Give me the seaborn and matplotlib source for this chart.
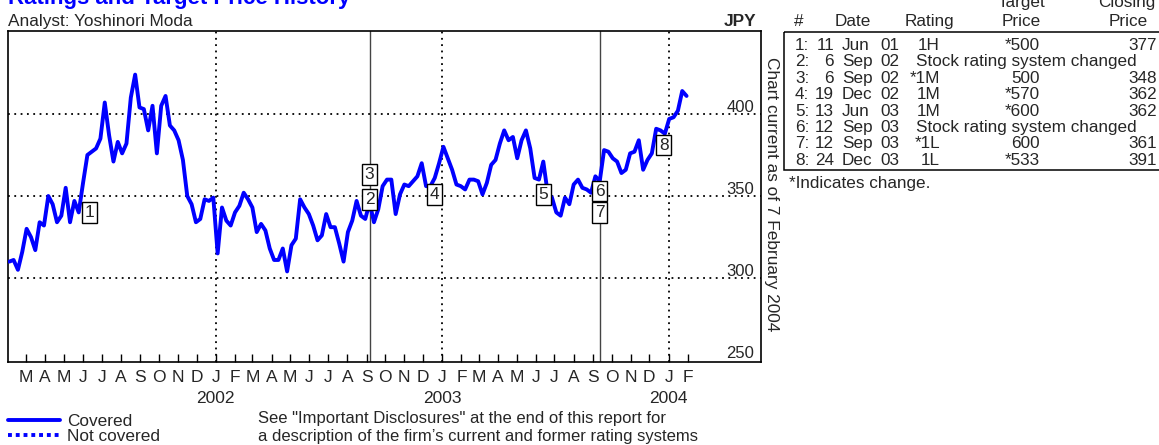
import matplotlib
matplotlib.use("Agg")
import matplotlib.pyplot as plt
import matplotlib.transforms as mtransforms
from matplotlib.lines import Line2D
from matplotlib.patches import Rectangle
import seaborn as sns
import numpy as np
import pandas as pd

sns.set_theme(style="white")
plt.rcParams['font.family'] = ['Liberation Sans', 'DejaVu Sans']

BLUE = '#0000ff'

# --- data ---
# weekly closing prices (JPY), first week ending 2 Feb 2001
first_week = "2001-02-02"
prices = [
    310, 311, 305, 316, 330, 325, 317, 334, 332, 350,
    345, 334, 338, 355, 334, 347, 340, 358, 375, 377,
    379, 385, 407, 387, 371, 383, 376, 382, 410, 424,
    404, 403, 390, 405, 376, 405, 411, 393, 390, 384,
    372, 350, 345, 334, 336, 348, 347, 349, 315, 343,
    335, 332, 340, 344, 352, 348, 343, 328, 333, 329,
    318, 311, 311, 318, 304, 320, 324, 348, 343, 339,
    332, 323, 326, 339, 331, 331, 321, 310, 328, 335,
    347, 338, 336, 346, 334, 342, 356, 360, 360, 339,
    351, 357, 356, 359, 362, 370, 356, 356, 361, 370,
    380, 373, 366, 357, 356, 354, 360, 360, 359, 351,
    358, 369, 372, 382, 390, 384, 386, 373, 384, 390,
    379, 361, 360, 371, 352, 349, 340, 338, 349, 345,
    357, 360, 355, 354, 352, 362, 359, 378, 377, 373,
    371, 364, 366, 376, 377, 384, 366, 372, 376, 391,
    390, 388, 397, 398, 402, 414, 411,
]

# numbered rating / target events
event_ids = ["1", "2", "3", "4", "5", "6", "7", "8"]
event_dates = ["2001-06-11", "2002-09-06", "2002-09-06", "2002-12-19",
               "2003-06-13", "2003-09-12", "2003-09-12", "2003-12-24"]
event_levels = [340, 348, 363, 351, 351, 353, 340, 381]

year_starts = ["2002-01-01", "2003-01-01", "2004-01-01"]
year_labels = ["2002", "2003", "2004"]
system_changes = ["2002-09-06", "2003-09-12"]
price_ticks = [250, 300, 350, 400]
month_labels = list("MAMJJASONDJFMAMJJASONDJFMAMJJASONDJF")

# table on the right
row_ids = ["1:", "2:", "3:", "4:", "5:", "6:", "7:", "8:"]
row_days = ["11", "6", "6", "19", "13", "12", "12", "24"]
row_months = ["Jun", "Sep", "Sep", "Dec", "Jun", "Sep", "Sep", "Dec"]
row_years = ["01", "02", "02", "02", "03", "03", "03", "03"]
row_ratings = ["1H", None, "*1M", "1M", "1M", None, "*1L", "1L"]
row_targets = ["*500", None, "500", "*570", "*600", None, "600", "*533"]
row_closes = ["377", None, "348", "362", "362", None, "361", "391"]

df = pd.DataFrame({
    "Date": pd.date_range(first_week, periods=len(prices), freq="7D"),
    "Price": prices,
})

# --- figure ---
W, H = 1159, 445
fig = plt.figure(figsize=(W / 100, H / 100), dpi=100)
pix = mtransforms.Affine2D().scale(1 / W, -1 / H).translate(0, 1) + fig.transFigure

ax = fig.add_axes([8 / W, 1 - 362 / H, 753 / W, 331 / H])
sns.lineplot(data=df, x="Date", y="Price", color=BLUE, lw=2.8, ax=ax, zorder=3)
ax.set_xlabel("")
ax.set_ylabel("")
ax.set_xlim(pd.Timestamp("2001-01-31"), pd.Timestamp("2004-05-29"))
ax.set_ylim(248.8, 450.6)

for s in ax.spines.values():
    s.set_color("black")
    s.set_linewidth(1.2)

dots = (0, (1, 2.5))
for v in price_ticks[1:]:
    ax.axhline(v, color="black", lw=1.3, ls=dots, zorder=1)
for d in year_starts:
    ax.axvline(pd.Timestamp(d), color="black", lw=1.3, ls=dots, zorder=1)
for d in system_changes:
    ax.axvline(pd.Timestamp(d), color="#444444", lw=1.0, zorder=1)

# month ticks
months = pd.date_range("2001-03-01", periods=len(month_labels), freq="MS")
ax.set_xticks(months)
ax.set_xticklabels(month_labels)
ax.tick_params(axis="x", bottom=True, direction="in", length=6, width=1,
               color="black", pad=6, labelsize=12.5)
ax.set_yticks([])

xtrans = mtransforms.blended_transform_factory(ax.transData, ax.transAxes)
for d, lab in zip(year_starts, year_labels):
    ax.text(pd.Timestamp(d), -0.124, lab, transform=xtrans, ha="center",
            va="baseline", fontsize=12.5)

ytrans = mtransforms.offset_copy(
    mtransforms.blended_transform_factory(ax.transAxes, ax.transData),
    fig=fig, y=2, units="dots")
for v in price_ticks:
    ax.text(0.9907, v, str(v), transform=ytrans, ha="right", va="baseline",
            fontsize=12)

for lab, d, lvl in zip(event_ids, event_dates, event_levels):
    ax.text(pd.Timestamp(d), lvl, lab, ha="center", va="center", fontsize=12.5,
            zorder=5,
            bbox=dict(boxstyle="square,pad=0.16", fc="white", ec="black", lw=1))

# --- texts around the plot ---
fig.text(8, 4, "Ratings and Target Price History", transform=pix, color=BLUE,
         fontsize=16, fontweight="bold", va="baseline")
fig.text(8, 26, "Analyst: Yoshinori Moda", transform=pix, fontsize=12.4,
         va="baseline")
fig.text(756, 26.5, "JPY", transform=pix, fontsize=12.4, fontweight="bold",
         ha="right", va="baseline")
fig.text(771, 57, "Chart current as of 7 February 2004", transform=pix,
         fontsize=12.4, rotation=-90, ha="center", va="top")

# table header
TF = 12.3
fig.text(799, 26, "#", transform=pix, fontsize=TF, ha="center", va="baseline")
fig.text(853, 26, "Date", transform=pix, fontsize=TF, ha="center", va="baseline")
fig.text(929, 26, "Rating", transform=pix, fontsize=TF, ha="center", va="baseline")
fig.text(1021, 7, "Target", transform=pix, fontsize=TF, ha="center", va="baseline")
fig.text(1021, 26, "Price", transform=pix, fontsize=TF, ha="center", va="baseline")
fig.text(1127, 7, "Closing", transform=pix, fontsize=TF, ha="center", va="baseline")
fig.text(1128, 26, "Price", transform=pix, fontsize=TF, ha="center", va="baseline")

fig.add_artist(Rectangle((784, 32), 390, 138, transform=pix, fill=False,
                         ec="black", lw=1.1))

for i in range(len(row_ids)):
    y = 50 + 16.4 * i
    kw = dict(transform=pix, fontsize=TF, va="baseline")
    fig.text(795, y, row_ids[i], ha="left", **kw)
    fig.text(834, y, row_days[i], ha="right", **kw)
    fig.text(842, y, row_months[i], ha="left", **kw)
    fig.text(880, y, row_years[i], ha="left", **kw)
    if row_ratings[i] is None:
        fig.text(916, y, "Stock rating system changed", ha="left", **kw)
    else:
        fig.text(940, y, row_ratings[i], ha="right", **kw)
        fig.text(1040, y, row_targets[i], ha="right", **kw)
        fig.text(1157, y, row_closes[i], ha="right", **kw)

fig.text(789, 188, "*Indicates change.", transform=pix, fontsize=TF,
         va="baseline")

# legend and disclosure note
handles = [Line2D([], [], color=BLUE, lw=2.8),
           Line2D([], [], color=BLUE, lw=2.8, ls=(0, (1, 1)))]
fig.legend(handles, ["Covered", "Not covered"], loc="upper left",
           bbox_to_anchor=(8 / W, 1 - 414 / H), frameon=False, fontsize=12.4,
           handlelength=3.0, handletextpad=0.45, labelspacing=0.0,
           borderpad=0, borderaxespad=0)
fig.text(258, 423, 'See "Important Disclosures" at the end of this report for',
         transform=pix, fontsize=12, va="baseline")
fig.text(258, 441, "a description of the firm\u2019s current and former rating systems",
         transform=pix, fontsize=12, va="baseline")

fig.savefig("out.png", dpi=100)
